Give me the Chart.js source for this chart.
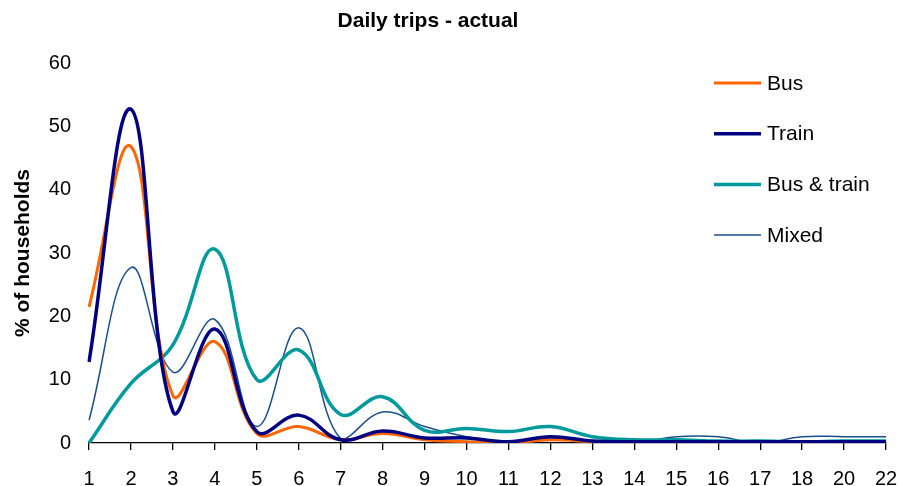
<!DOCTYPE html>
<html>
<head>
<meta charset="utf-8">
<script src="https://cdn.jsdelivr.net/npm/chart.js@4.4.1/dist/chart.umd.min.js"></script>
<style>
  html, body { margin: 0; padding: 0; background: #fff; }
  #wrap { width: 900px; height: 486px; }
</style>
</head>
<body>
<div id="wrap"><canvas id="mycanvas" width="900" height="486"></canvas></div>
<script>
// trips per day (x axis categories) - note 19 and 21 are not in the source
var trips = ['1','2','3','4','5','6','7','8','9','10','11','12','13','14','15','16','17','18','20','22'];

var bus       = [21.5, 46.8, 7.5, 16.0, 1.5, 2.6, 0.5, 1.5, 0.5, 0.2, 0.0, 0.5, 0.2, 0.0, 0.0, 0.0, 0.0, 0.0, 0.0, 0.0];
var train     = [12.8, 52.7, 5.0, 18.0, 1.8, 4.4, 0.5, 1.9, 0.8, 0.8, 0.2, 1.0, 0.3, 0.2, 0.2, 0.2, 0.2, 0.2, 0.2, 0.2];
var busTrain  = [0.0, 9.4, 15.5, 30.6, 10.0, 14.7, 4.5, 7.3, 2.0, 2.3, 1.8, 2.6, 1.0, 0.5, 0.5, 0.3, 0.3, 0.2, 0.3, 0.3];
var mixed     = [3.6, 27.7, 11.2, 19.5, 2.6, 18.2, 0.7, 4.9, 2.6, 1.0, 0.2, 0.7, 0.1, 0.0, 1.0, 1.0, 0.0, 1.0, 1.0, 1.0];

var yTicks = [0, 10, 20, 30, 40, 50, 60];

var seriesNames = ['Bus', 'Train', 'Bus & train', 'Mixed'];
var seriesColors = ['#ff6600', '#000080', '#009a9c', '#1b4f8c'];
var seriesWidths = [3, 3.5, 3.5, 1.5];

var chartTitle = 'Daily trips - actual';

// title + legend drawn by hand, legend sits inside the plot on the right
var overlay = {
  id: 'overlay',
  afterDraw: function (chart) {
    var ctx = chart.ctx;
    ctx.save();
    ctx.fillStyle = '#000';
    ctx.font = 'bold 21px "Liberation Sans", Arial, sans-serif';
    ctx.textAlign = 'center';
    ctx.textBaseline = 'middle';
    ctx.fillText(chartTitle, 428, 21);

    ctx.font = '21px "Liberation Sans", Arial, sans-serif';
    ctx.textAlign = 'left';
    chart.data.datasets.forEach(function (ds, i) {
      var y = 83 + i * 50.7;
      ctx.strokeStyle = ds.borderColor;
      ctx.lineWidth = ds.borderWidth;
      ctx.beginPath();
      ctx.moveTo(714, y);
      ctx.lineTo(761, y);
      ctx.stroke();
      ctx.fillText(ds.label, 767, y + 1);
    });
    ctx.restore();
  }
};

var datasets = [bus, train, busTrain, mixed].map(function (vals, i) {
  return {
    label: seriesNames[i],
    data: vals,
    borderColor: seriesColors[i],
    backgroundColor: seriesColors[i],
    borderWidth: seriesWidths[i],
    pointRadius: 0,
    tension: 0.4,
    fill: false
  };
});
// draw mixed first so the thick ones sit over it like in the original
datasets.forEach(function (d, i) { d.order = [2, 1, 3, 4][i]; });

var ctx = document.getElementById('mycanvas');

var lineGraph = new Chart(ctx, {
  type: 'line',
  data: { labels: trips, datasets: datasets },
  options: {
    responsive: false,
    animation: false,
    layout: { padding: { left: 0, right: 14, top: 63, bottom: 0 } },
    plugins: {
      legend: { display: false },
      title: { display: false },
      tooltip: { enabled: false }
    },
    scales: {
      x: {
        type: 'category',
        offset: false,
        grid: { display: true, drawOnChartArea: false, drawTicks: true, tickLength: 7, color: '#000', lineWidth: 1.3 },
        border: { display: true, color: '#000', width: 1.3 },
        ticks: { color: '#000', font: { size: 20, family: '"Liberation Sans", Arial, sans-serif' }, padding: 17, maxRotation: 0, autoSkip: false },
        afterFit: function (scale) {
          scale.height = 43;
          scale.paddingRight = 0;
          scale.paddingLeft = 0;
        }
      },
      y: {
        min: 0,
        max: 60,
        afterBuildTicks: function (scale) {
          scale.ticks = yTicks.map(function (v) { return { value: v }; });
        },
        grid: { display: false, drawTicks: false },
        border: { display: false },
        ticks: { color: '#000', font: { size: 20, family: '"Liberation Sans", Arial, sans-serif' }, padding: 18 },
        title: {
          display: true,
          text: '% of households',
          color: '#000',
          font: { size: 21, weight: 'bold', family: '"Liberation Sans", Arial, sans-serif' },
          padding: { top: 11, bottom: 0 }
        },
        afterFit: function (scale) { scale.width = 89; }
      }
    }
  },
  plugins: [overlay]
});
</script>
</body>
</html>
